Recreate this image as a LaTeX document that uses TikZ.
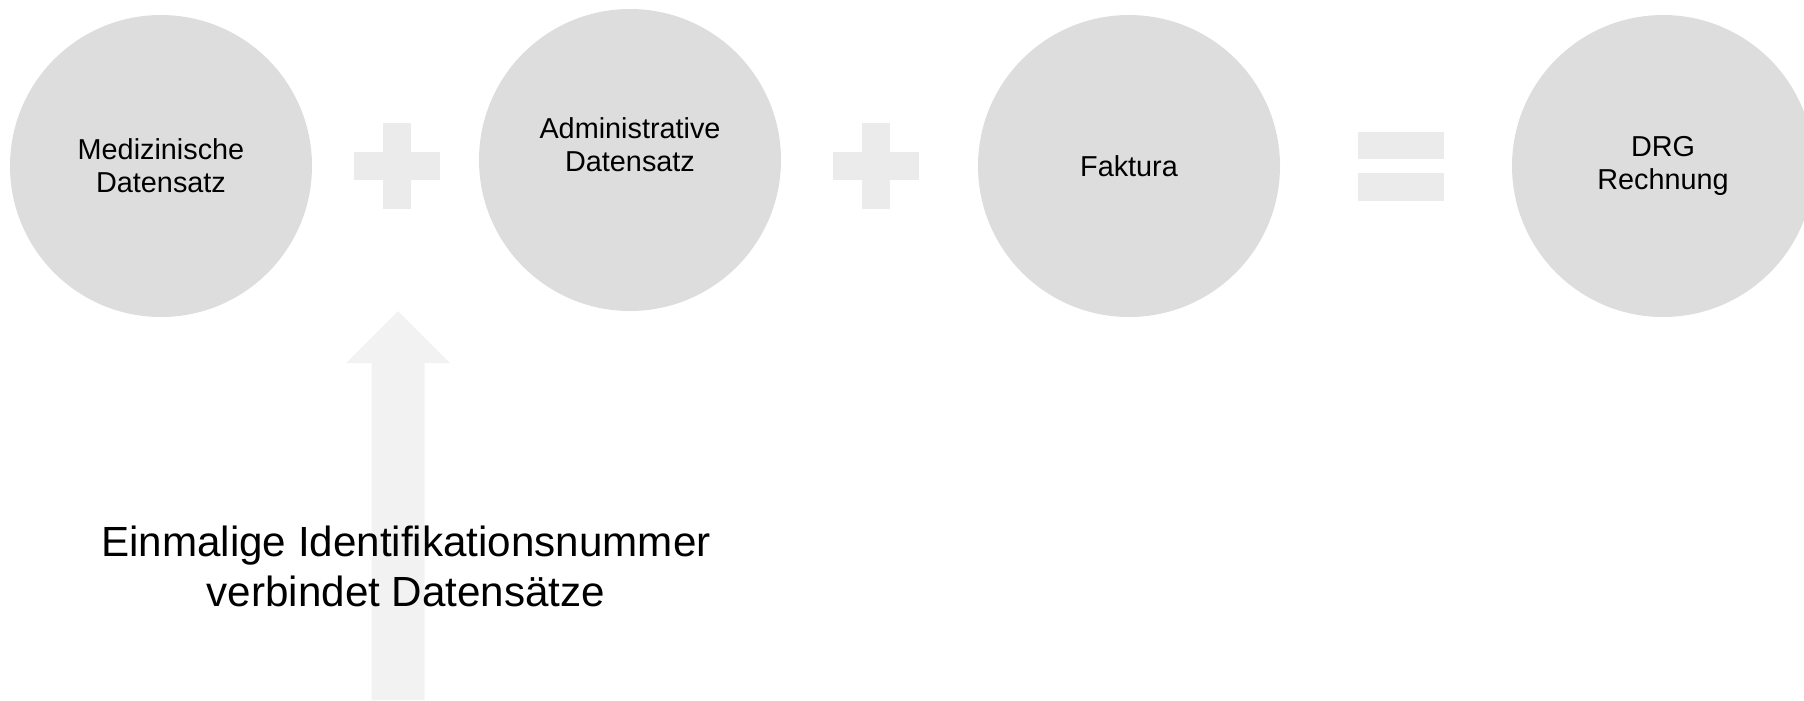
\documentclass[tikz,border=0pt]{standalone}
\usepackage{fontspec}
\setmainfont{Liberation Sans}
\definecolor{kreisgrau}{RGB}{221, 221, 221}
\definecolor{zeichengrau}{RGB}{235, 235, 235}
\definecolor{pfeilgrau}{RGB}{242, 242, 242}
\usetikzlibrary{positioning, calc}

\begin{document}
\begin{tikzpicture}[
    datenkreis/.style={circle, fill=kreisgrau, minimum size=3.02cm, inner sep=0pt,
                       align=center, font=\fontsize{8.2}{9.3}\selectfont}
]
    \useasboundingbox (0, 0) rectangle (18.04, 7);
    \clip (0, 0) rectangle (18.04, 7);

    % Identifikationspfeil
    \coordinate (idspitze) at (3.98, 3.89);
    \coordinate (idfuss) at (3.98, 0);
    \fill[pfeilgrau] (idspitze) -- ++(0.52, -0.52) -- ++(-0.255, 0) |- (idfuss)
        -- ++(-0.265, 0) |- ($(idspitze) + (-0.52, -0.52)$) -- cycle;
    \node[font=\fontsize{12}{14.2}\selectfont, align=center, inner sep=0pt] (idtext)
        at (4.06, 1.335) {Einmalige Identifikationsnummer\\verbindet Datensätze};

    % Datensaetze
    \node[datenkreis] (medizin) at (1.61, 5.34) {Medizinische\\Datensatz};
    \node[datenkreis] (admin) at (6.30, 5.40) {};
    \node[align=center, inner sep=0pt, font=\fontsize{8.2}{9.3}\selectfont] (admintext)
        at ($(admin) + (0, 0.15)$) {Administrative\\Datensatz};
    \node[datenkreis] (faktura) at (11.29, 5.34) {Faktura};
    \node[datenkreis] (rechnung) at (16.63, 5.34) {DRG\\Rechnung};

    % Pluszeichen
    \foreach \px/\zname in {3.97/plusA, 8.76/plusB} {
        \coordinate (\zname) at (\px, 5.34);
        \fill[zeichengrau] ($(\zname) + (-0.43, -0.14)$) rectangle ($(\zname) + (0.43, 0.14)$);
        \fill[zeichengrau] ($(\zname) + (-0.14, -0.43)$) rectangle ($(\zname) + (0.14, 0.43)$);
    }

    % Gleichheitszeichen
    \coordinate (gleich) at (14.01, 5.34);
    \fill[zeichengrau] ($(gleich) + (-0.43, 0.07)$) rectangle ($(gleich) + (0.43, 0.345)$);
    \fill[zeichengrau] ($(gleich) + (-0.43, -0.35)$) rectangle ($(gleich) + (0.43, -0.07)$);
\end{tikzpicture}
\end{document}
